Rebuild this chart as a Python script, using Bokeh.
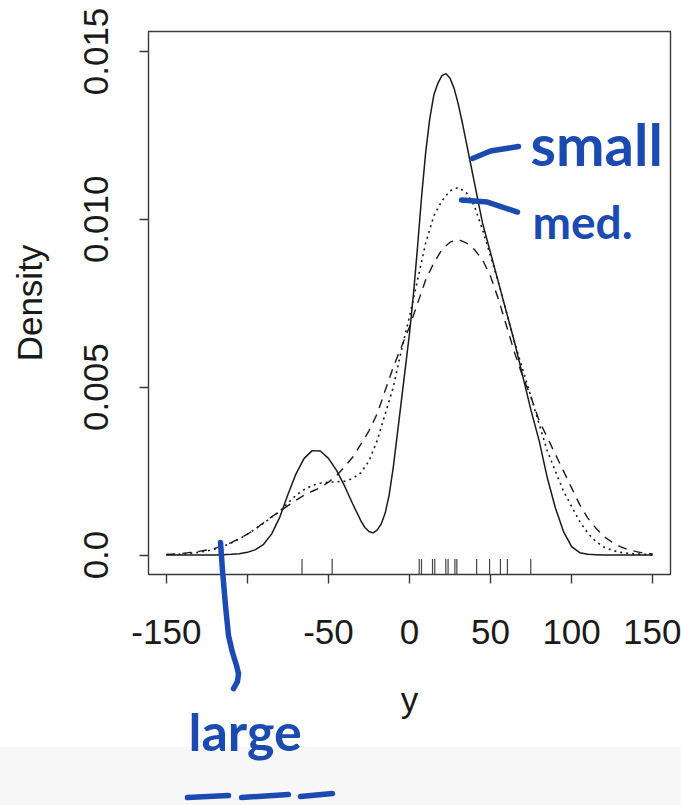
from bokeh.plotting import figure
from bokeh.models import Range1d, FixedTicker
from bokeh.core.properties import value
from bokeh.embed import file_html
from bokeh.resources import INLINE

# ---------------- data ----------------
small_x = [-150, -145, -140, -135, -130, -125, -120, -115, -110, -105, -100, -95, -90, -85, -80, -75,
           -70, -65, -60, -55, -50, -45, -40, -35,
           -30, -27.5, -25, -22.5, -20, -17.5, -15, -12.5, -10, -7.5, -5, -2.5, 0, 2.5, 5, 7.5, 10, 12.5, 15,
           17.5, 20, 22.5, 25, 27.5, 30, 32.5, 35, 37.5, 40, 42.5, 45,
           50, 55, 60, 65, 70, 75, 80, 85, 90, 95, 100, 105, 110, 115, 120, 125, 130, 135, 140, 145, 150]
small_y = [0, 0, 0, 0, 0, 0, 0, 0.00001, 0.00002, 0.00004, 0.00008, 0.00016, 0.00032, 0.00063, 0.00113, 0.0018,
           0.00242, 0.00288, 0.00311, 0.0031, 0.00288, 0.00252, 0.00205, 0.00152,
           0.00102, 0.00082, 0.0007, 0.00066, 0.00074, 0.00092, 0.00125, 0.0018, 0.00262, 0.0036, 0.0046,
           0.0056, 0.0066, 0.0078, 0.0092, 0.0107, 0.0120, 0.0130, 0.0137,
           0.01405, 0.01428, 0.01434, 0.0142, 0.0139, 0.01345, 0.0129, 0.0123, 0.0117, 0.0111, 0.0105, 0.0099,
           0.0090, 0.0081, 0.0072, 0.0063, 0.0053, 0.0043, 0.0034, 0.0023, 0.0014, 0.0007, 0.00025, 0.00007,
           0.00002, 0.00001, 0, 0, 0, 0, 0, 0, 0]

grid_x = list(range(-150, 151, 5))
med_y = [0.00001, 0.00002, 0.00003, 0.00005, 0.00008, 0.00012, 0.00018, 0.00026, 0.00036, 0.00048,
         0.00062, 0.00078, 0.00095, 0.00113, 0.0013, 0.00155, 0.00178, 0.00195, 0.00207, 0.00214,
         0.00217, 0.00218, 0.0022, 0.00228, 0.00245, 0.0028, 0.0034, 0.0042, 0.0050, 0.0061,
         0.0071, 0.0082, 0.0093, 0.0101, 0.01055, 0.01085, 0.01095, 0.0108, 0.0104, 0.0097,
         0.0089, 0.0081, 0.0072, 0.0063, 0.0055, 0.0047, 0.0039, 0.0031, 0.0025, 0.0019,
         0.00145, 0.001, 0.00065, 0.0004, 0.00024, 0.00014, 0.00008, 0.00005, 0.00003, 0.00002, 0.00001]
large_y = [0.00002, 0.00003, 0.00005, 0.00008, 0.00011, 0.00015, 0.0002, 0.00028, 0.00037, 0.00049,
           0.00062, 0.00078, 0.00096, 0.00114, 0.0013, 0.00147, 0.00163, 0.00178, 0.0019, 0.00201,
           0.00217, 0.00237, 0.00263, 0.00292, 0.0033, 0.0037, 0.0042, 0.0049, 0.0056, 0.0062,
           0.0068, 0.0075, 0.0082, 0.0087, 0.0091, 0.00932, 0.0094, 0.0093, 0.0091, 0.0088,
           0.0083, 0.0076, 0.0068, 0.0060, 0.0053, 0.0047, 0.0040, 0.0035, 0.0030, 0.0025,
           0.0020, 0.0015, 0.0011, 0.0008, 0.00055, 0.00038, 0.00025, 0.00016, 0.0001, 0.00005, 0.00003]

rug = [-66.3, -47.7, 6.0, 7.4, 14.2, 15.6, 22.4, 23.8, 28.0, 29.2, 41.4, 49.4, 56.1, 60.4, 74.8]

x_ticks = [-150, -100, -50, 0, 50, 100, 150]
x_tick_labels = ["-150", "", "-50", "0", "50", "100", "150"]
y_ticks = [0, 0.005, 0.010, 0.015]
y_tick_labels = ["0.0", "0.005", "0.010", "0.015"]

# hand-written notes (page pixel positions)
note_texts = ["small", "med.", "large"]
note_px = [530, 532, 188]
note_py = [143, 221, 730]
note_sizes = ["58px", "46px", "52px"]
pointer_small = ([472, 490, 518], [158, 150.5, 146])
pointer_med = ([461, 487, 517], [199.5, 201.5, 211.5])
pointer_large = ([220, 222, 225, 228, 232, 236, 238, 237, 233], [542, 570, 605, 635, 652, 665, 673, 681, 688])
dash_strokes = [([187, 228], [797, 795]), ([241, 288], [797, 794]), ([300, 332], [796, 793])]

# ---------------- figure ----------------
FONT = "Liberation Sans"
INK = "#1a1a1a"
BLUE = "#1b4bb0"

p = figure(width=681, height=805, x_range=Range1d(-161, 161), y_range=Range1d(-0.00058, 0.015595),
           output_backend="svg", toolbar_location=None,
           min_border_left=148, min_border_top=31, min_border_right=11, min_border_bottom=231)
p.grid.visible = False
p.outline_line_color = "#3a3a3a"
p.outline_line_width = 1.4

for ax in (p.xaxis[0], p.yaxis[0]):
    ax.axis_line_color = None
    ax.major_tick_out = 9
    ax.major_tick_in = 0
    ax.minor_tick_line_color = None
    ax.major_tick_line_color = "#3a3a3a"
    ax.major_tick_line_width = 1.4
    ax.major_label_text_font = FONT
    ax.major_label_text_font_size = "35px"
    ax.major_label_text_color = INK
    ax.axis_label_text_font = FONT
    ax.axis_label_text_font_size = "35px"
    ax.axis_label_text_font_style = "normal"
    ax.axis_label_text_color = INK

p.xaxis.ticker = FixedTicker(ticks=x_ticks)
p.xaxis.major_label_overrides = {t: s for t, s in zip(x_ticks, x_tick_labels)}
p.yaxis.ticker = FixedTicker(ticks=y_ticks)
p.yaxis.major_label_overrides = {t: s for t, s in zip(y_ticks, y_tick_labels)}
p.yaxis.major_label_orientation = "vertical"
p.xaxis.major_label_standoff = 36
p.yaxis.major_label_standoff = 31
p.xaxis.axis_label = "y"
p.yaxis.axis_label = "Density"
p.xaxis.axis_label_standoff = 33
p.yaxis.axis_label_standoff = 33

# curves
p.line(grid_x, large_y, line_color=INK, line_width=1.4, line_dash="9 7")
p.line(grid_x, med_y, line_color=INK, line_width=1.6, line_dash="2 4")
p.line(small_x, small_y, line_color=INK, line_width=1.5)

# rug
p.segment(x0=rug, y0=[-0.00058] * len(rug), x1=rug, y1=[-0.00012] * len(rug),
          line_color="#444444", line_width=1.2)

# ---------------- hand-drawn notes ----------------
def sx(v):
    return [(a - 409) / 1.6211 for a in v]

def sy(v):
    return [(554.5 - b) / 33570 for b in v]

# grey strip at the bottom of the screenshot
p.quad(left=sx([-10]), right=sx([700]), top=sy([746]), bottom=sy([820]),
       fill_color="#f7f7f7", line_color=None, level="guide")

for xs, ys in [pointer_small, pointer_med, pointer_large] + dash_strokes:
    p.line(sx(xs), sy(ys), line_color=BLUE, line_width=5.5, line_cap="round", line_join="round",
           level="overlay")

for t, a, b, fs in zip(note_texts, note_px, note_py, note_sizes):
    p.text(x=sx([a]), y=sy([b]), text=[t], text_font=value("Lato"), text_font_style="bold",
           text_font_size=fs, text_color=BLUE, text_baseline="alphabetic", text_align="left",
           level="overlay")

open("out.html", "w").write(file_html(p, INLINE))
